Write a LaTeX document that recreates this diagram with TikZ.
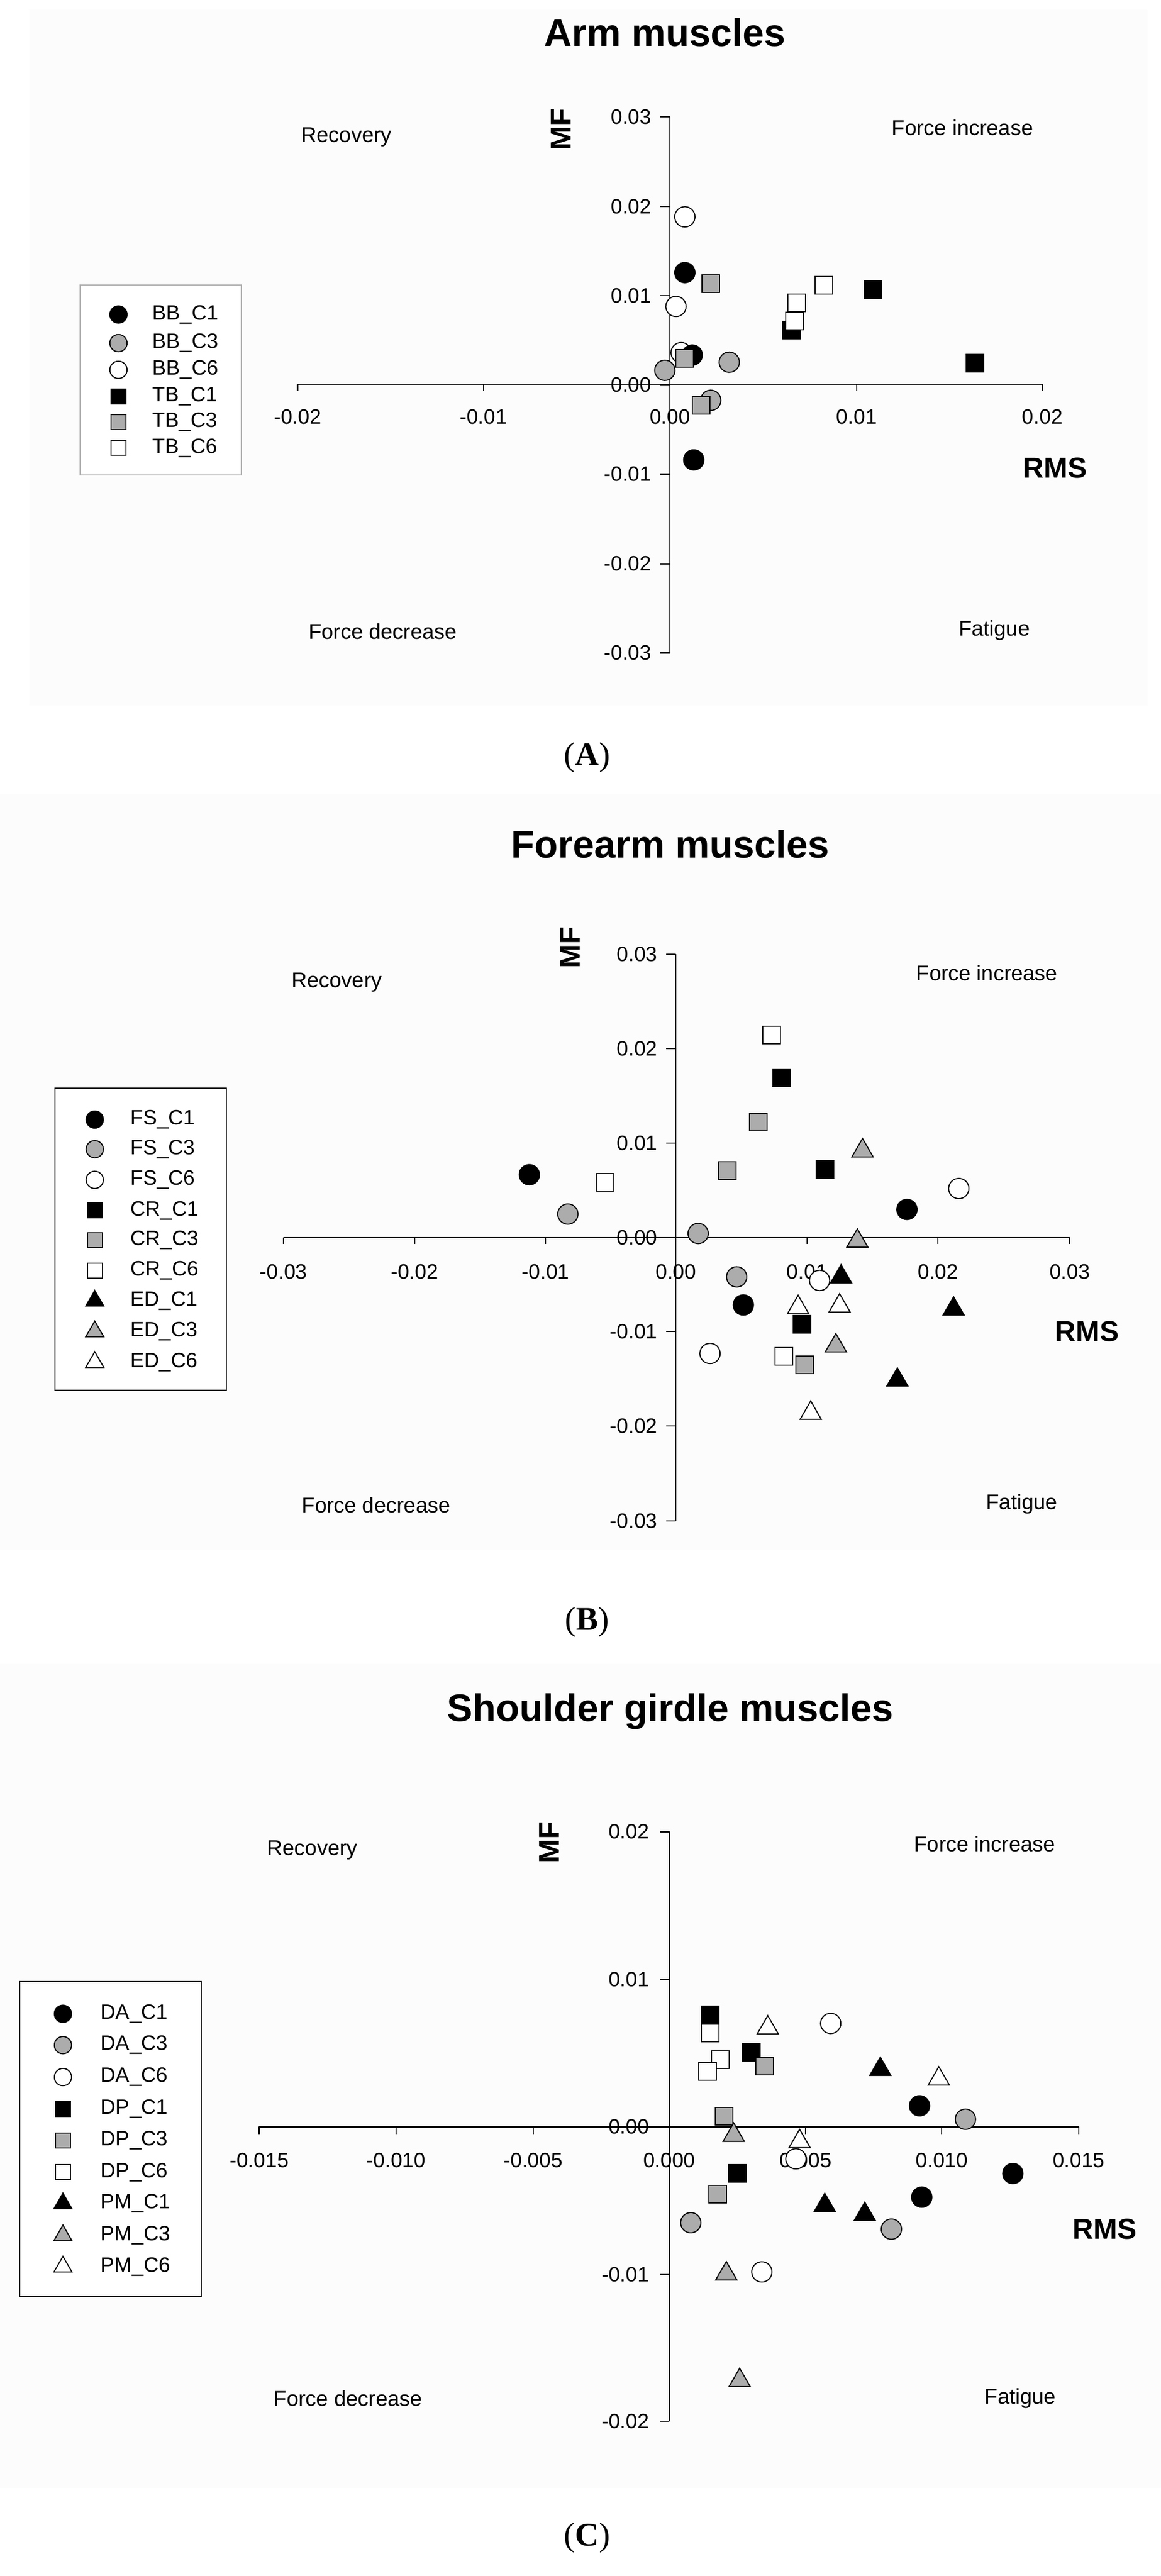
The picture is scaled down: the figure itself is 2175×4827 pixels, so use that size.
\documentclass[tikz,border=0pt]{standalone}
\usepackage{fontspec}
\setmainfont{Liberation Sans}
\newfontfamily\capfont{Liberation Serif}
\usetikzlibrary{shapes.geometric}
\begin{document}
\begin{tikzpicture}[x=1pt,y=-1pt,
  mk/.style={draw=black,line width=2pt,inner sep=0pt},
  ci/.style={mk,circle,minimum size=38pt},
  sq/.style={mk,rectangle,minimum size=33pt},
  tr/.style={mk,regular polygon,regular polygon sides=3,minimum size=46pt},
  k/.style={fill=black}, g/.style={fill=gray!65}, w/.style={fill=white},
  tick/.style={font=\fontsize{39}{41}\selectfont,inner sep=0pt},
  quad/.style={font=\fontsize{40}{42}\selectfont,inner sep=0pt},
  axl/.style={font=\fontsize{54}{56}\selectfont\bfseries,inner sep=0pt},
  ttl/.style={font=\fontsize{72}{76}\selectfont\bfseries,inner sep=0pt},
  leg/.style={font=\fontsize{39}{41}\selectfont,inner sep=0pt,anchor=west},
  captxt/.style={font=\fontsize{62}{66}\selectfont\capfont,inner sep=0pt},
  ax/.style={line width=2.2pt}]
\useasboundingbox[fill=white] (0,0) rectangle (2175,4827);

% ================= Panel A =================
\begin{scope}[xscale=1.387,yscale=0.893]
\fill[gray!2] (40,20) rectangle (1550,1480);
\node[ttl] (tA) at (898,68) {Arm muscles};
\draw[ax] (402,806) -- (1408,806);
\foreach \x/\l [count=\i] in {402/-0.02,653/-0.01,905/0.00,1157/0.01,1408/0.02}{
  \draw[ax] (\x,806) -- (\x,820);
  \node[tick] (xA\i) at (\x,875) {\l};}
\draw[ax] (905,245) -- (905,1370);
\foreach \y/\l [count=\i] in {245/0.03,433/0.02,620/0.01,807/0.00,995/-0.01,1183/-0.02,1370/-0.03}{
  \draw[ax] (905,\y) -- (891,\y);
  \node[tick,anchor=east] (yA\i) at (880,\y) {\l};}
\node[axl,rotate=90] (mfA) at (758,272) {MF};
\node[axl] (rmsA) at (1425,982) {RMS};
\node[quad] (q1A) at (468,288) {Recovery};
\node[quad] (q2A) at (1300,268) {Force increase};
\node[quad] (q3A) at (517,1325) {Force decrease};
\node[quad] (q4A) at (1343,1323) {Fatigue};
\node[captxt] (cA) at (793,1590) {(\textbf{A})};
% legend
\draw[gray!60,line width=2pt,fill=white] (108,598) rectangle (326,997);
\foreach \s/\f/\l/\y [count=\i] in {ci/k/BB\_C1/660,ci/g/BB\_C3/720,ci/w/BB\_C6/776,sq/k/TB\_C1/832,sq/g/TB\_C3/886,sq/w/TB\_C6/940}{
  \node[\s,\f,scale=0.85] (lmA\i) at (160,\y) {};
  \node[leg] (ltA\i) at (206,\y) {\l};}
% data
\foreach \x/\y [count=\i] in {920/740,925/455,913/643}{\node[ci,w] (a6c\i) at (\x,\y) {};}
\foreach \x/\y [count=\i] in {925/572,935/745,937/965}{\node[ci,k] (a1c\i) at (\x,\y) {};}
\foreach \x/\y [count=\i] in {898/777,960/840,985/760}{\node[ci,g] (a3c\i) at (\x,\y) {};}
\foreach \x/\y [count=\i] in {1179/607,1069/693,1317/762}{\node[sq,k] (a1s\i) at (\x,\y) {};}
\foreach \x/\y [count=\i] in {960/595,925/752,947/850}{\node[sq,g] (a3s\i) at (\x,\y) {};}
\foreach \x/\y [count=\i] in {1113/598,1076/636,1073/673}{\node[sq,w] (a6s\i) at (\x,\y) {};}
\end{scope}

% ================= Panel B =================
\begin{scope}[shift={(0,1450)},xscale=1.387,yscale=0.957]
\fill[gray!2] (0,40) rectangle (1568,1520);
\node[ttl] (tB) at (905,138) {Forearm muscles};
\draw[ax] (383,908) -- (1445,908);
\foreach \x/\l [count=\i] in {383/-0.03,560/-0.02,737/-0.01,913/0.00,1090/0.01,1267/0.02,1445/0.03}{
  \draw[ax] (\x,908) -- (\x,921);
  \node[tick] (xB\i) at (\x,975) {\l};}
\draw[ax] (913,353) -- (913,1463);
\foreach \y/\l [count=\i] in {353/0.03,538/0.02,723/0.01,908/0.00,1092/-0.01,1277/-0.02,1463/-0.03}{
  \draw[ax] (913,\y) -- (900,\y);
  \node[tick,anchor=east] (yB\i) at (888,\y) {\l};}
\node[axl,rotate=90] (mfB) at (770,340) {MF};
\node[axl] (rmsB) at (1468,1092) {RMS};
\node[quad] (q1B) at (455,408) {Recovery};
\node[quad] (q2B) at (1333,390) {Force increase};
\node[quad] (q3B) at (508,1432) {Force decrease};
\node[quad] (q4B) at (1380,1430) {Fatigue};
% legend
\draw[black,line width=2pt,fill=white] (74,615) rectangle (306,1207);
\foreach \s/\f/\l/\y [count=\i] in {ci/k/FS\_C1/677,ci/g/FS\_C3/735,ci/w/FS\_C6/795,sq/k/CR\_C1/855,sq/g/CR\_C3/913,sq/w/CR\_C6/973,tr/k/ED\_C1/1032,tr/g/ED\_C3/1092,tr/w/ED\_C6/1152}{
  \node[\s,\f,scale=0.85] (lmB\i) at (128,\y) {};
  \node[leg] (ltB\i) at (176,\y) {\l};}
% data
\foreach \x/\y [count=\i] in {715/785,1225/853,1004/1040}{\node[ci,k] (b1c\i) at (\x,\y) {};}
\foreach \x/\y [count=\i] in {767/862,943/900,995/985}{\node[ci,g] (b3c\i) at (\x,\y) {};}
\foreach \x/\y [count=\i] in {1295/812,1107/992,959/1135}{\node[ci,w] (b6c\i) at (\x,\y) {};}
\foreach \x/\y [count=\i] in {1056/595,1114/775,1083/1078}{\node[sq,k] (b1s\i) at (\x,\y) {};}
\foreach \x/\y [count=\i] in {1024/682,982/777,1087/1157}{\node[sq,g] (b3s\i) at (\x,\y) {};}
\foreach \x/\y [count=\i] in {1042/511,817/800,1059/1140}{\node[sq,w] (b6s\i) at (\x,\y) {};}
\foreach \x/\y [count=\i] in {1136/985,1288/1048,1212/1187}{\node[tr,k] (b1t\i) at (\x,\y) {};}
\foreach \x/\y [count=\i] in {1165/738,1158/915,1129/1120}{\node[tr,g] (b3t\i) at (\x,\y) {};}
\foreach \x/\y [count=\i] in {1078/1045,1134/1042,1095/1252}{\node[tr,w] (b6t\i) at (\x,\y) {};}
\end{scope}

% ================= Panel C =================
\begin{scope}[shift={(0,2950)},xscale=1.387,yscale=1.197]
\fill[gray!2] (0,140) rectangle (1568,1430);
\node[captxt] (cB) at (793,75) {(\textbf{B})};
\node[captxt] (cC) at (793,1508) {(\textbf{C})};
\node[ttl] (tC) at (905,215) {Shoulder girdle muscles};
\draw[ax] (350,865) -- (1457,865);
\foreach \x/\l [count=\i] in {350/-0.015,535/-0.010,720/-0.005,904/0.000,1088/0.005,1272/0.010,1457/0.015}{
  \draw[ax] (\x,865) -- (\x,876);
  \node[tick] (xC\i) at (\x,917) {\l};}
\draw[ax] (904,403) -- (904,1326);
\foreach \y/\l [count=\i] in {403/0.02,634/0.01,865/0.00,1096/-0.01,1326/-0.02}{
  \draw[ax] (904,\y) -- (891,\y);
  \node[tick,anchor=east] (yC\i) at (877,\y) {\l};}
\node[axl,rotate=90] (mfC) at (742,420) {MF};
\node[axl] (rmsC) at (1492,1025) {RMS};
\node[quad] (q1C) at (422,432) {Recovery};
\node[quad] (q2C) at (1330,422) {Force increase};
\node[quad] (q3C) at (470,1290) {Force decrease};
\node[quad] (q4C) at (1378,1290) {Fatigue};
% legend
\draw[black,line width=2pt,fill=white] (27,637) rectangle (272,1130);
\foreach \s/\f/\l/\y [count=\i] in {ci/k/DA\_C1/688,ci/g/DA\_C3/737,ci/w/DA\_C6/787,sq/k/DP\_C1/837,sq/g/DP\_C3/886,sq/w/DP\_C6/936,tr/k/PM\_C1/985,tr/g/PM\_C3/1035,tr/w/PM\_C6/1084}{
  \node[\s,\f,scale=0.85] (lmC\i) at (85,\y) {};
  \node[leg] (ltC\i) at (136,\y) {\l};}
% data
\foreach \x/\y [count=\i] in {1242/832,1368/938,1245/975}{\node[ci,k] (c1c\i) at (\x,\y) {};}
\foreach \x/\y [count=\i] in {1304/853,933/1015,1204/1025}{\node[ci,g] (c3c\i) at (\x,\y) {};}
\foreach \x/\y [count=\i] in {1122/703,1075/915,1029/1092}{\node[ci,w] (c6c\i) at (\x,\y) {};}
\foreach \x/\y [count=\i] in {959/690,1015/748,996/938}{\node[sq,k] (c1s\i) at (\x,\y) {};}
\foreach \x/\y [count=\i] in {1033/770,978/848,969/970}{\node[sq,g] (c3s\i) at (\x,\y) {};}
\foreach \x/\y [count=\i] in {959/718,973/760,956/778}{\node[sq,w] (c6s\i) at (\x,\y) {};}
\foreach \x/\y [count=\i] in {1189/775,1114/988,1168/1002}{\node[tr,k] (c1t\i) at (\x,\y) {};}
\foreach \x/\y [count=\i] in {991/878,981/1095,999/1262}{\node[tr,g] (c3t\i) at (\x,\y) {};}
\foreach \x/\y [count=\i] in {1037/710,1268/790,1080/888}{\node[tr,w] (c6t\i) at (\x,\y) {};}
\end{scope}
\end{tikzpicture}
\end{document}
